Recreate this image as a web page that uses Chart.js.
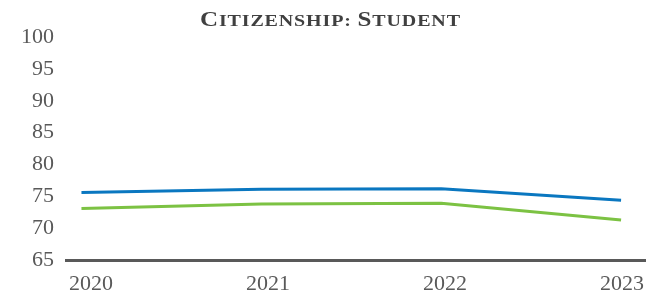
<!DOCTYPE html>
<html>
<head>
<meta charset="utf-8">
<script src="https://cdn.jsdelivr.net/npm/chart.js@4/dist/chart.umd.min.js"></script>
<style>
  html, body { margin: 0; padding: 0; background: #fff; }
  #wrap { width: 660px; height: 295px; }
</style>
</head>
<body>
<div id="wrap"><canvas id="citizenChart"></canvas></div>
<script>
const chartTitle = 'Citizenship: Student';
const years = ['2020', '2021', '2022', '2023'];
const blueValues = [75.6, 76.1, 76.2, 74.4];
const greenValues = [73.1, 73.8, 73.9, 71.3];
const yTicks = [65, 70, 75, 80, 85, 90, 95, 100];

const serif = "'Liberation Serif', 'Times New Roman', serif";
const grey = '#595959';

function toPoints(values) {
    return values.map((v, i) => ({ x: Number(years[i]), y: v }));
}

// title in small caps: capitals at full size, the rest as smaller capitals,
// letters drawn a bit wider like the Garamond of the original
const smallCapsTitle = {
    id: 'smallCapsTitle',
    afterDraw(chart) {
        const c = chart.ctx;
        const bigFont = 'bold 20px ' + serif;
        const smallFont = 'bold 16px ' + serif;
        const stretch = 1.25;
        const parts = chartTitle.split('').map(ch => ({
            text: ch.toUpperCase(),
            font: (ch === ch.toUpperCase() && ch !== ch.toLowerCase()) ? bigFont : smallFont
        }));
        c.save();
        let natural = 0;
        parts.forEach(p => { c.font = p.font; p.w = c.measureText(p.text).width * stretch; natural += p.w; });
        const targetWidth = 260;
        const gap = Math.max((targetWidth - natural) / (parts.length - 1), 0);
        let x = chart.width / 2 - targetWidth / 2;
        c.fillStyle = '#404040';
        c.textBaseline = 'alphabetic';
        c.textAlign = 'left';
        parts.forEach(p => {
            c.font = p.font;
            c.save();
            c.translate(x, 26);
            c.scale(stretch, 1);
            c.fillText(p.text, 0, 0);
            c.restore();
            x += p.w + gap;
        });
        c.restore();
    }
};

const ctx = document.getElementById('citizenChart').getContext('2d');
const chart = new Chart(ctx, {
    type: 'line',
    data: {
        datasets: [{
            data: toPoints(blueValues),
            borderColor: '#0a77c0',
            borderWidth: 3,
            pointRadius: 0,
            tension: 0
        }, {
            data: toPoints(greenValues),
            borderColor: '#7cc243',
            borderWidth: 3,
            pointRadius: 0,
            tension: 0
        }]
    },
    options: {
        responsive: true,
        maintainAspectRatio: false,
        animation: false,
        layout: {
            padding: { left: 9, right: 15, top: 37, bottom: -13.5 }
        },
        plugins: {
            legend: { display: false },
            tooltip: { enabled: false },
            title: { display: false }
        },
        scales: {
            x: {
                type: 'linear',
                display: false,
                min: 2019.914,
                max: 2023.133
            },
            xLabels: {
                type: 'linear',
                position: 'bottom',
                min: 2019.859,
                max: 2023.130,
                grid: { display: false, drawTicks: false },
                border: { display: true, color: grey, width: 3 },
                afterBuildTicks: axis => {
                    axis.ticks = years.map(y => ({ value: Number(y) }));
                },
                ticks: {
                    color: grey,
                    padding: 11,
                    maxRotation: 0,
                    font: { family: serif, size: 22 },
                    callback: (v) => years.find(y => Number(y) === v) || ''
                }
            },
            y: {
                min: 65,
                max: 100,
                grid: { display: false, drawTicks: false },
                border: { display: false },
                afterBuildTicks: axis => {
                    axis.ticks = yTicks.map(v => ({ value: v }));
                },
                ticks: {
                    color: grey,
                    padding: 12,
                    font: { family: serif, size: 22 }
                }
            }
        }
    },
    plugins: [smallCapsTitle]
});
</script>
</body>
</html>
